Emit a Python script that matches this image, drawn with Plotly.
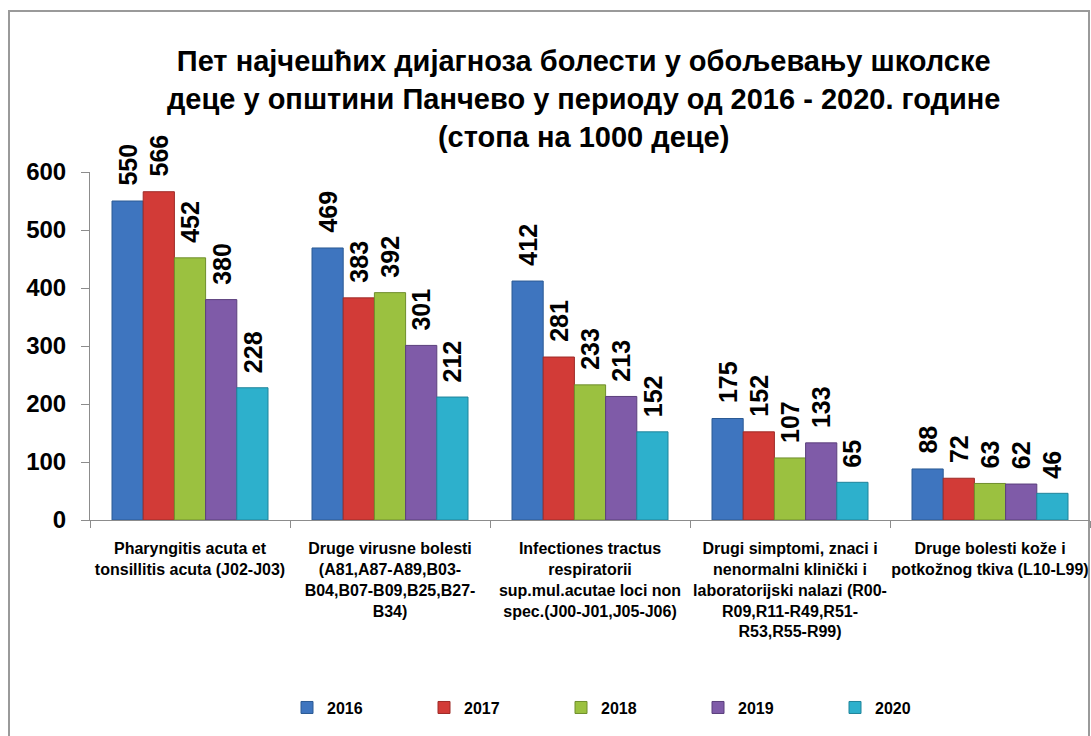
import plotly.graph_objects as go

# Diagnosis groups (x-axis categories)
categories = [
    "Pharyngitis acuta et<br>tonsillitis acuta (J02-J03)",
    "Druge virusne bolesti<br>(A81,A87-A89,B03-<br>B04,B07-B09,B25,B27-<br>B34)",
    "Infectiones tractus<br>respiratorii<br>sup.mul.acutae loci non<br>spec.(J00-J01,J05-J06)",
    "Drugi simptomi, znaci i<br>nenormalni klinički i<br>laboratorijski nalazi (R00-<br>R09,R11-R49,R51-<br>R53,R55-R99)",
    "Druge bolesti kože i<br>potkožnog tkiva (L10-L99)",
]

# Rates per 1000 children, by year
years = ["2016", "2017", "2018", "2019", "2020"]
rate_2016 = [550, 469, 412, 175, 88]
rate_2017 = [566, 383, 281, 152, 72]
rate_2018 = [452, 392, 233, 107, 63]
rate_2019 = [380, 301, 213, 133, 62]
rate_2020 = [228, 212, 152, 65, 46]
series = [rate_2016, rate_2017, rate_2018, rate_2019, rate_2020]

y_ticks = [0, 100, 200, 300, 400, 500, 600]

fill_colors = ["#3E75BF", "#D23B37", "#9BC140", "#7F5BA8", "#2DB0CC"]
edge_colors = ["#2B5A94", "#9E2A27", "#6F8E2C", "#5B3F7C", "#1F849A"]

font_family = "Liberation Sans, Arial, sans-serif"

# Plot-area geometry in pixels, used to offset the value labels per bar
W, H = 1091, 736
M_L, M_R, M_T, M_B = 90, 1, 172, 216
BARGAP = 0.22
group_px = (W - M_L - M_R) / len(categories)
bar_px = group_px * (1 - BARGAP) / len(years)

fig = go.Figure()
for year, vals, fc, ec in zip(years, series, fill_colors, edge_colors):
    fig.add_trace(go.Bar(
        name=year,
        x=categories,
        y=vals,
        marker=dict(color=fc, line=dict(color=ec, width=1)),
        cliponaxis=False,
    ))

# Rotated value labels above each bar
for i, vals in enumerate(series):
    for cat, v in zip(categories, vals):
        fig.add_annotation(
            x=cat, y=v, xref="x", yref="y",
            text=str(v), showarrow=False,
            textangle=-90,
            xanchor="center", yanchor="bottom",
            xshift=(i - (len(years) - 1) / 2) * bar_px,
            yshift=13,
            font=dict(family=font_family, size=25, color="black", weight="bold"),
        )

fig.update_layout(
    width=W,
    height=H,
    paper_bgcolor="white",
    plot_bgcolor="white",
    barmode="group",
    bargap=BARGAP,
    bargroupgap=0,
    margin=dict(l=M_L, r=M_R, t=M_T, b=M_B, autoexpand=False),
    title=dict(
        text="Пет најчешћих дијагноза болести у обољевању школске<br>"
             "деце у општини Панчево у периоду од 2016 - 2020. године<br>"
             "(стопа на 1000 деце)",
        x=0.535, xanchor="center",
        y=0.903, yanchor="top",
        font=dict(family=font_family, size=29, color="black", weight="bold"),
    ),
    legend=dict(
        orientation="h",
        x=0.197, xanchor="left",
        y=-0.539, yanchor="middle",
        entrywidth=92, entrywidthmode="pixels",
        itemwidth=30,
        font=dict(family=font_family, size=16, color="black", weight="bold"),
        traceorder="normal",
    ),
    showlegend=True,
)

fig.update_xaxes(
    showline=True, linecolor="#8C8C8C", linewidth=1,
    ticks="outside", tickson="boundaries", ticklen=7, tickcolor="#8C8C8C",
    tickfont=dict(family=font_family, size=16, color="black", weight="bold"),
    tickangle=0,
    ticklabelstandoff=14,
    showgrid=False,
)
fig.update_yaxes(
    range=[0, 600],
    tickvals=y_ticks,
    showline=True, linecolor="#8C8C8C", linewidth=1,
    ticks="outside", ticklen=8, tickcolor="#8C8C8C",
    tickfont=dict(family=font_family, size=24, color="black", weight="bold"),
    ticklabelstandoff=10,
    showgrid=False, zeroline=False,
)

# Outer chart frame
plot_w = W - M_L - M_R
plot_h = H - M_T - M_B
fig.add_shape(
    type="rect", xref="paper", yref="paper",
    x0=(9 - M_L) / plot_w, x1=(1089 - M_L) / plot_w,
    y0=-(H + 20 - (H - M_B)) / plot_h, y1=((H - M_B) - 11) / plot_h,
    line=dict(color="#9A9A9A", width=2),
    fillcolor="rgba(0,0,0,0)", layer="below",
)

fig.write_html("out.html")
